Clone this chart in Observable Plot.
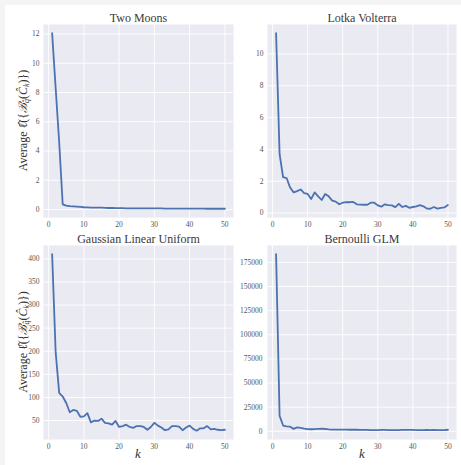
<!DOCTYPE html>
<html>
<head>
<meta charset="utf-8">
<script src="https://cdn.jsdelivr.net/npm/d3@7"></script>
<script src="https://cdn.jsdelivr.net/npm/@observablehq/plot@0.6"></script>
<style>
  html, body { margin: 0; padding: 0; background: #f4f4f4; }
  #fig { position: absolute; left: 5px; top: 5px; width: 456px; height: 460px; background: #ffffff; }
  #wrap { position: absolute; left: 0; top: 0; width: 461px; height: 465px; }
  #wrap svg { position: absolute; left: 0; top: 0; background: transparent; overflow: visible; }
</style>
</head>
<body>
<div id="fig"></div>
<div id="wrap"></div>
<script>
const k = d3.range(1, 51);
const titles = ["Two Moons", "Lotka Volterra", "Gaussian Linear Uniform", "Bernoulli GLM"];
const twoMoons = [12.05, 8.3, 4.6, 0.35, 0.26, 0.23, 0.21, 0.19, 0.17, 0.15,
  0.14, 0.13, 0.13, 0.12, 0.12, 0.11, 0.1, 0.1, 0.09, 0.09,
  0.09, 0.08, 0.08, 0.08, 0.08, 0.07, 0.07, 0.07, 0.07, 0.07,
  0.07, 0.07, 0.06, 0.06, 0.06, 0.06, 0.06, 0.06, 0.06, 0.06,
  0.06, 0.06, 0.06, 0.06, 0.05, 0.05, 0.05, 0.05, 0.05, 0.05];
const lotkaVolterra = [11.3, 3.7, 2.25, 2.2, 1.6, 1.3, 1.38, 1.48, 1.25, 1.2,
  0.88, 1.3, 1.05, 0.82, 1.2, 1.05, 0.78, 0.72, 0.55, 0.65,
  0.68, 0.68, 0.7, 0.55, 0.53, 0.52, 0.52, 0.65, 0.65, 0.48,
  0.4, 0.55, 0.5, 0.48, 0.37, 0.58, 0.38, 0.45, 0.33, 0.38,
  0.42, 0.5, 0.42, 0.28, 0.27, 0.38, 0.28, 0.33, 0.35, 0.5];
const gaussianLinearUniform = [410, 198, 110, 102, 88, 68, 73, 71, 58, 59,
  66, 46, 50, 49, 54, 45, 44, 41, 49, 36,
  38, 41, 36, 34, 38, 38, 36, 30, 36, 45,
  39, 35, 29, 31, 38, 38, 37, 29, 35, 39,
  32, 28, 33, 33, 38, 31, 32, 30, 29, 30];
const bernoulliGLM = [183500, 16000, 6000, 5200, 4800, 2500, 4000, 3500, 2800, 2200,
  2100, 2300, 2600, 2700, 2400, 2000, 1800, 1700, 1700, 1800,
  1700, 1600, 1600, 1600, 1500, 1500, 1400, 1300, 1200, 1300,
  1400, 1400, 1300, 1300, 1200, 1300, 1400, 1400, 1500, 1400,
  1300, 1300, 1300, 1400, 1300, 1400, 1300, 1200, 1300, 1600];
const xTicks = [0, 10, 20, 30, 40, 50];
const yTicks = [
  [0, 2, 4, 6, 8, 10, 12],
  [0, 2, 4, 6, 8, 10],
  [50, 100, 150, 200, 250, 300, 350, 400],
  [0, 25000, 50000, 75000, 100000, 125000, 150000, 175000]
];
const series = [twoMoons, lotkaVolterra, gaussianLinearUniform, bernoulliGLM];
const yDomains = [[-0.55, 12.65], [-0.28, 11.85], [8.9, 429], [-8500, 192500]];

const W = 461, H = 465;
// plot area boxes [left, right, top, bottom]
const boxes = [[43, 233, 24, 217], [267, 456, 24, 217], [43, 233, 245, 439], [267, 456, 245, 439]];
const font = "'Liberation Serif', 'DejaVu Serif', serif";
const wrap = document.getElementById("wrap");

series.forEach((vals, i) => {
  const data = k.map((kk, j) => ({k: kk, v: vals[j]}));
  const [l, r, t, b] = boxes[i];
  const p = Plot.plot({
    width: W, height: H,
    marginLeft: l, marginRight: W - r, marginTop: t, marginBottom: H - b,
    style: {fontFamily: font, fontSize: "7.5px", color: "#555", background: "transparent"},
    x: {domain: [-1.45, 52.45], ticks: xTicks, tickSize: 0, tickPadding: 4, label: null},
    y: {domain: yDomains[i], ticks: yTicks[i], tickSize: 0, tickPadding: 4, label: null, tickFormat: d => String(d)},
    marks: [
      Plot.frame({fill: "#EAEAF2", stroke: null}),
      Plot.gridX(xTicks, {stroke: "#ffffff", strokeOpacity: 1, strokeWidth: 0.9}),
      Plot.gridY(yTicks[i], {stroke: "#ffffff", strokeOpacity: 1, strokeWidth: 0.9}),
      Plot.axisX({ticks: xTicks, tickSize: 0, tickPadding: 4, fill: "#555", label: null}),
      Plot.axisY({ticks: yTicks[i], tickSize: 0, tickPadding: i === 3 ? 5 : 4, fill: "#555", label: null, tickFormat: d => String(d)}),
      Plot.lineY(data, {x: "k", y: "v", stroke: "#4C72B0", strokeWidth: 1.8}),
      Plot.text([titles[i]], {frameAnchor: "top", dy: -3, text: d => d, fontSize: 12, fill: "#3a3a3a", lineAnchor: "bottom", fontFamily: font})
    ]
  });
  wrap.appendChild(p);
});

// overlay for axis labels
const svg = d3.select(wrap).append("svg").attr("width", W).attr("height", H)
  .style("font-family", font).style("fill", "#333");

function yLabel(cx, cy) {
  const t = svg.append("text")
    .attr("transform", `translate(${cx},${cy}) rotate(-90)`)
    .attr("text-anchor", "middle").attr("dominant-baseline", "middle")
    .attr("font-size", 12).attr("fill", "#333");
  t.append("tspan").text("Average ℓ\u0302({");
  t.append("tspan").attr("font-style", "italic").text("ℬ");
  t.append("tspan").attr("font-size", 8).attr("dy", 3).attr("font-style", "italic").text("q\u0302");
  t.append("tspan").attr("dy", -3).text("(");
  t.append("tspan").attr("font-style", "italic").text("C\u0302");
  t.append("tspan").attr("font-size", 8).attr("dy", 3).attr("font-style", "italic").text("k");
  t.append("tspan").attr("dy", -3).text(")})");
}
yLabel(24, 120.5);
yLabel(24, 342);

function xLabel(cx, cy) {
  svg.append("text").attr("x", cx).attr("y", cy)
    .attr("text-anchor", "middle").attr("dominant-baseline", "middle")
    .attr("font-size", 13).attr("font-style", "italic").attr("fill", "#333").text("k");
}
xLabel(138, 455);
xLabel(362, 455);
</script>
</body>
</html>
